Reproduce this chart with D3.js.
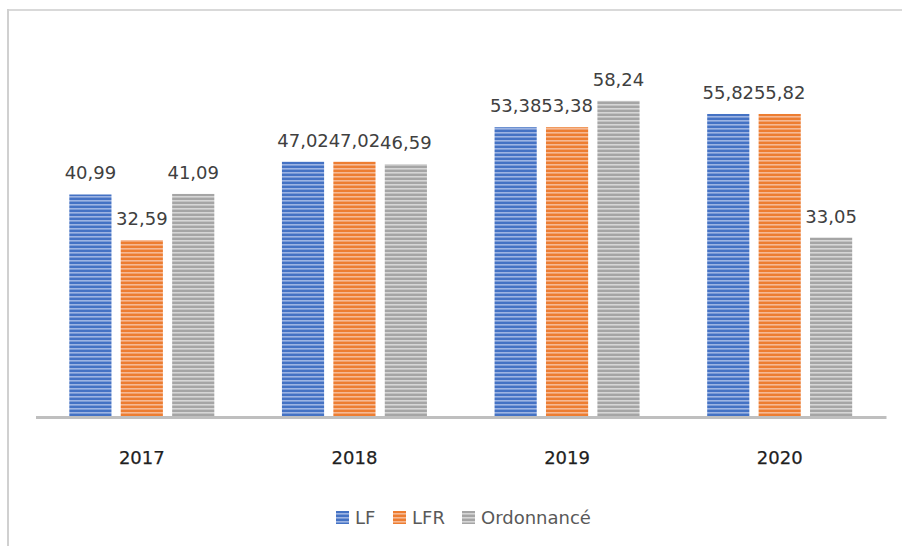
<!DOCTYPE html>
<html><head><meta charset="utf-8">
<script src="https://cdn.jsdelivr.net/npm/d3@7"></script>
<style>body{margin:0;background:#fff}svg{display:block}</style>
</head><body>
<svg id="c" width="902" height="546"></svg>
<script>
const categories = ["2017","2018","2019","2020"];
const seriesNames = ["LF","LFR","Ordonnancé"];
const valuesLF = [40.99, 47.02, 53.38, 55.82];
const valuesLFR = [32.59, 47.02, 53.38, 55.82];
const valuesOrd = [41.09, 46.59, 58.24, 33.05];
const labelsLF = ["40,99","47,02","53,38","55,82"];
const labelsLFR = ["32,59","47,02","53,38","55,82"];
const labelsOrd = ["41,09","46,59","58,24","33,05"];

const seriesValues = [valuesLF, valuesLFR, valuesOrd];
const seriesLabels = [labelsLF, labelsLFR, labelsOrd];
const colors = [["#4472c4","#9db4e3"],["#ed7d31","#f6b994"],["#a5a5a5","#d6d6d6"]];

const svg = d3.select("#c");
const defs = svg.append("defs");
colors.forEach((c,i)=>{
  const p = defs.append("pattern").attr("id","pat"+i).attr("patternUnits","userSpaceOnUse")
    .attr("width",8).attr("height",4);
  p.append("rect").attr("width",8).attr("height",4).attr("fill",c[0]);
  p.append("rect").attr("y",0).attr("width",8).attr("height",1.6).attr("fill",c[1]);
});

// frame
svg.append("rect").attr("x",7).attr("y",9).attr("width",895).attr("height",2).attr("fill","#d9d9d9");
svg.append("rect").attr("x",7).attr("y",9).attr("width",2).attr("height",537).attr("fill","#d0d0d0");

const x0 = d3.scaleBand().domain(categories).range([35.5,886]).paddingInner(0).paddingOuter(0);
const inner = 145;
const x1 = d3.scaleBand().domain(seriesNames).range([0,inner]).paddingInner(0.18);
const y = d3.scaleLinear().domain([0,70]).range([417,37]);

const g = svg.append("g");
categories.forEach((cat,ci)=>{
  const gx = x0(cat) + (x0.bandwidth()-inner)/2;
  seriesNames.forEach((s,si)=>{
    const v = seriesValues[si][ci];
    g.append("rect").attr("x",gx+x1(s)).attr("y",y(v)).attr("width",x1.bandwidth())
      .attr("height",y(0)-y(v)).attr("fill","url(#pat"+si+")");
    g.append("text").attr("x",gx+x1(s)+x1.bandwidth()/2).attr("y",y(v)-15)
      .attr("text-anchor","middle").attr("font-family","DejaVu Sans, sans-serif")
      .attr("font-size",18).attr("fill","#404040").text(seriesLabels[si][ci]);
  });
});

// axis
const xAxis = d3.axisBottom(x0).tickSize(0).tickPadding(0);
const ax = svg.append("g").attr("transform","translate(0,417)").call(xAxis);
ax.select(".domain").attr("stroke","#bfbfbf").attr("stroke-width",3);
ax.selectAll("text").attr("dy",0).attr("y",47).attr("font-family","DejaVu Sans, sans-serif")
  .attr("font-size",18).attr("fill","#1f1f1f").attr("stroke","#1f1f1f").attr("stroke-width",0.25);

// legend
const legend = svg.append("g").attr("transform","translate(0,517)");
const items = [{x:336},{x:393},{x:462}];
seriesNames.forEach((s,i)=>{
  legend.append("rect").attr("x",items[i].x).attr("y",-6).attr("width",13).attr("height",13)
    .attr("fill","url(#pat"+i+")");
  legend.append("text").attr("x",items[i].x+19).attr("y",7).attr("font-family","DejaVu Sans, sans-serif")
    .attr("font-size",18).attr("fill","#595959").text(s);
});
</script>
</body></html>
